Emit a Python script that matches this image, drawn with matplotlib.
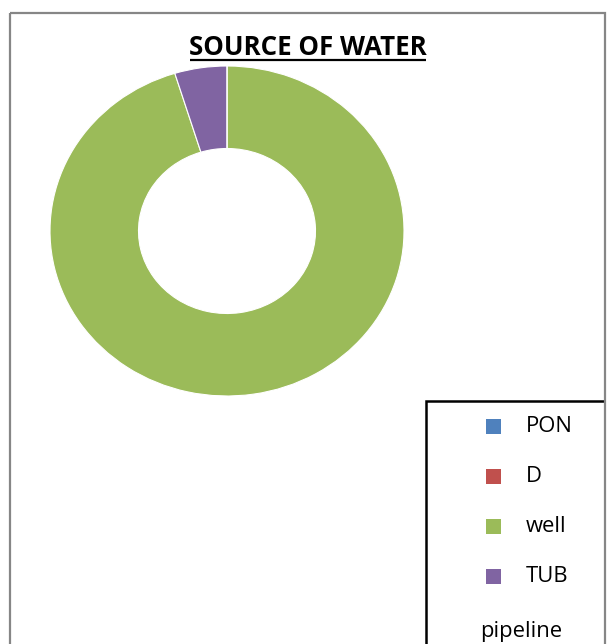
import matplotlib.pyplot as plt
from matplotlib.patches import Rectangle

# source of water survey counts
categories = ['PON', 'D', 'well', 'TUB', 'pipeline']
counts = [0, 0, 20, 1, 0]
colors = ['#4F81BD', '#C0504D', '#9BBB59', '#8064A2', '#4BACC6']

W, H = 612, 644
fig = plt.figure(figsize=(W / 100, H / 100), dpi=100)
plt.rcParams['font.family'] = ['Open Sans', 'DejaVu Sans']

# overlay in pixel units for frame, title and legend
over = fig.add_axes([0, 0, 1, 1])
over.set_xlim(0, W)
over.set_ylim(H, 0)
over.axis('off')

# donut, stretched a little wider than tall
ax = fig.add_axes([50 / W, (H - 396) / H, 354 / W, 330 / H])
ax.pie(counts, colors=colors, startangle=90, counterclock=False,
       wedgeprops=dict(width=0.5, edgecolor='white', linewidth=0.8))
ax.set_aspect('auto')
ax.set_xlim(-1, 1)
ax.set_ylim(-1, 1)

# title with underline
over.text(308, 55, 'SOURCE OF WATER', ha='center', va='baseline',
          fontsize=18.6, fontweight='bold', color='black')
over.plot([190, 426], [60, 60], color='black', lw=1.6, solid_capstyle='butt')

# legend box, running off the bottom right (only top and left edges show)
over.plot([426, 426, 604], [H + 5, 401, 401], color='black', lw=1.8,
          solid_joinstyle='miter')
for i, (name, c) in enumerate(zip(categories[:4], colors[:4])):
    y = 419 + 50 * i
    over.add_patch(Rectangle((486, y), 15, 15, facecolor=c, edgecolor='none'))
    over.text(526, y + 7.5, name, ha='left', va='center', fontsize=15.8, color='black')
over.text(480, 632, categories[4], ha='left', va='center', fontsize=15.8, color='black')

# outer chart frame
over.add_patch(Rectangle((10, 13), 595, 660, fill=False, edgecolor='#868686', lw=1.6, zorder=5))

fig.savefig('out.png', dpi=100)
